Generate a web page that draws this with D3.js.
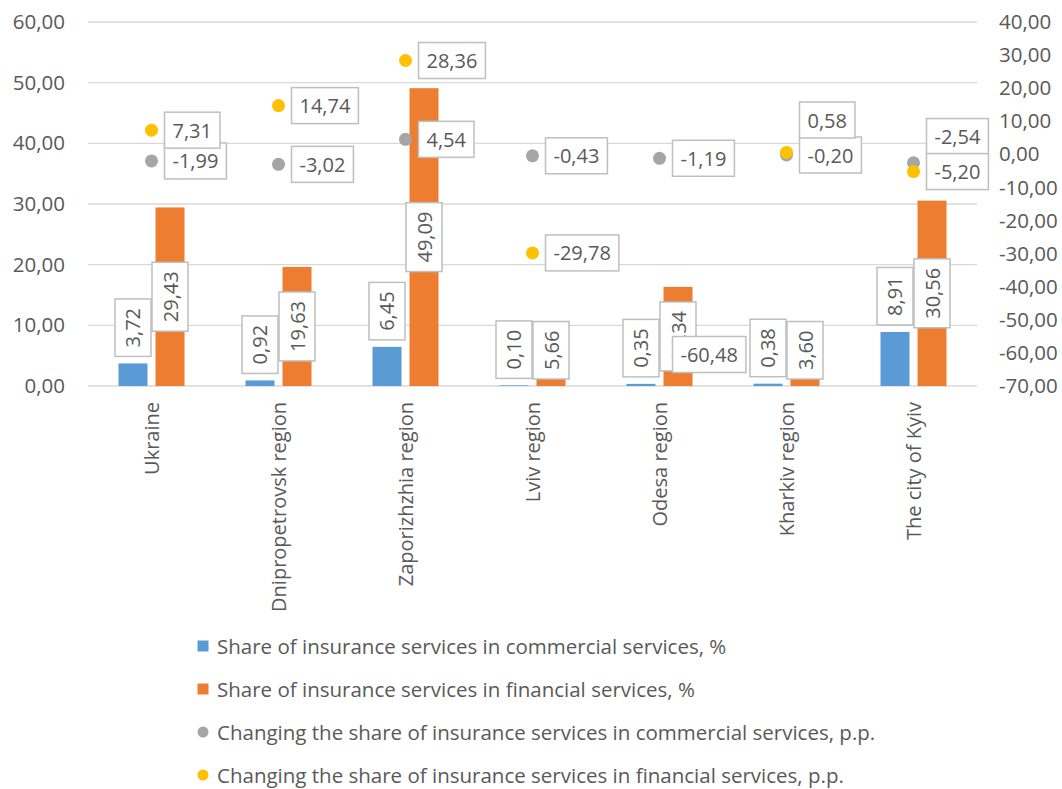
<!DOCTYPE html>
<html>
  <head>
    <meta charset="utf-8">
    <title>Insurance services share</title>
    <style>
      body { margin: 0; background: #fff; }
      svg text { font-family: "Open Sans", "Noto Sans", sans-serif; fill: #595959; }
    </style>
  </head>
  <body>
    <div id="chart"></div>
    <script src="https://cdn.jsdelivr.net/npm/d3@7"></script>
    <script>
    var categories = ["Ukraine", "Dnipropetrovsk region", "Zaporizhzhia region", "Lviv region",
                      "Odesa region", "Kharkiv region", "The city of Kyiv"];
    var commercialShare  = [3.72, 0.92, 6.45, 0.10, 0.35, 0.38, 8.91];
    var financialShare   = [29.43, 19.63, 49.09, 5.66, 16.34, 3.60, 30.56];
    var commercialChange = [-1.99, -3.02, 4.54, -0.43, -1.19, -0.20, -2.54];
    var financialChange  = [7.31, 14.74, 28.36, -29.78, -60.48, 0.58, -5.20];
    var leftTicks  = [0, 10, 20, 30, 40, 50, 60];
    var rightTicks = [-70, -60, -50, -40, -30, -20, -10, 0, 10, 20, 30, 40];
    var legendLabels = [
        "Share of insurance services in commercial services, %",
        "Share of insurance services in financial services, %",
        "Changing the share of insurance services in commercial services, p.p.",
        "Changing the share of insurance services in financial services, p.p."
    ];
    var colors = ["#5B9BD5", "#ED7D31", "#A5A5A5", "#FFC000"];

    var W = 1062, H = 789;
    var plot = {left: 88, right: 977, top: 22, bottom: 386};

    var locale = d3.formatLocale({decimal: ",", thousands: " ", grouping: [3], currency: ["", ""], minus: "-"});
    var fmt = locale.format(".2f");

    var svg = d3.select("#chart").append("svg")
        .attr("width", W).attr("height", H);

    var x = d3.scaleBand().domain(categories).range([plot.left, plot.right]);
    var xs = d3.scaleBand().domain(["c", "f"]).range([0, x.bandwidth()])
        .paddingInner(0.216).paddingOuter(0.824);
    var yL = d3.scaleLinear().domain([0, 60]).range([plot.bottom, plot.top]);
    var yR = d3.scaleLinear().domain([-70, 40]).range([plot.bottom, plot.top]);

    // gridlines
    svg.append("g").selectAll("line").data(leftTicks).join("line")
        .attr("x1", plot.left).attr("x2", plot.right)
        .attr("y1", d => yL(d)).attr("y2", d => yL(d))
        .attr("stroke", "#D9D9D9").attr("stroke-width", 1.3);

    // axes
    var axL = svg.append("g").attr("transform", "translate(" + plot.left + ",0)")
        .call(d3.axisLeft(yL).tickValues(leftTicks).tickSize(0).tickPadding(23).tickFormat(fmt));
    var axR = svg.append("g").attr("transform", "translate(" + plot.right + ",0)")
        .call(d3.axisRight(yR).tickValues(rightTicks).tickSize(0).tickPadding(22).tickFormat(fmt));
    [axL, axR].forEach(function(a) {
        a.select(".domain").remove();
        a.selectAll("text").style("font-size", "20.5px").attr("fill", "#595959");
    });

    svg.append("g").selectAll("text").data(categories).join("text")
        .attr("transform", d => "translate(" + (x(d) + x.bandwidth() / 2) + ",402) rotate(-90)")
        .attr("text-anchor", "end").attr("dominant-baseline", "central")
        .style("font-size", "20px")
        .text(d => d);

    // bars
    var barSeries = [
        {key: "c", values: commercialShare, color: colors[0], pos: "outside"},
        {key: "f", values: financialShare, color: colors[1], pos: "center"}
    ];
    barSeries.forEach(function(s) {
        svg.append("g").selectAll("rect").data(s.values).join("rect")
            .attr("x", (d, i) => x(categories[i]) + xs(s.key))
            .attr("width", xs.bandwidth())
            .attr("y", d => yL(d))
            .attr("height", d => yL(0) - yL(d))
            .attr("fill", s.color);
    });

    // scatter points
    var dotSeries = [
        {values: commercialChange, color: colors[2]},
        {values: financialChange, color: colors[3]}
    ];
    dotSeries.forEach(function(s) {
        svg.append("g").selectAll("circle").data(s.values).join("circle")
            .attr("cx", (d, i) => x(categories[i]) + x.bandwidth() / 2)
            .attr("cy", d => yR(d))
            .attr("r", 6.5)
            .attr("fill", s.color);
    });

    // bar labels (vertical, boxed)
    barSeries.forEach(function(s) {
        s.values.forEach(function(v, i) {
            var cx = x(categories[i]) + xs(s.key) + xs.bandwidth() / 2;
            var g = svg.append("g");
            var box = g.append("rect");
            var t = g.append("text").attr("text-anchor", "middle").attr("dominant-baseline", "central")
                .style("font-size", "20px").text(fmt(v));
            var len = t.node().getComputedTextLength();
            var h = len + 18;
            var cy;
            if (s.pos === "outside") cy = yL(v) - 7 - h / 2;
            else cy = Math.min((yL(v) + yL(0)) / 2, plot.bottom - 7 - h / 2);
            box.attr("x", -h / 2).attr("y", -18).attr("width", h).attr("height", 36)
                .attr("fill", "#fff").attr("stroke", "#BFBFBF").attr("stroke-width", 1.5);
            g.attr("transform", "translate(" + cx + "," + cy + ") rotate(-90)");
        });
    });

    // scatter labels (boxed, right of point; nudge the upper one when they collide)
    var labelY = dotSeries.map(s => s.values.map(v => yR(v)));
    categories.forEach(function(c, i) {
        var a = labelY[0][i], b = labelY[1][i];
        if (Math.abs(a - b) < 20) {
            if (a < b) labelY[0][i] = b - 35;
            else labelY[1][i] = a - 35;
        }
    });
    dotSeries.forEach(function(s, k) {
        s.values.forEach(function(v, i) {
            var cx = x(categories[i]) + x.bandwidth() / 2 + 13;
            var g = svg.append("g").attr("transform", "translate(" + cx + "," + labelY[k][i] + ")");
            var box = g.append("rect");
            var t = g.append("text").attr("x", 8).attr("dominant-baseline", "central")
                .style("font-size", "20px").text(fmt(v));
            var len = t.node().getComputedTextLength();
            box.attr("x", 0).attr("y", -18).attr("width", len + 16).attr("height", 36)
                .attr("fill", "#fff").attr("stroke", "#BFBFBF").attr("stroke-width", 1.5);
        });
    });

    // legend
    var leg = svg.append("g").selectAll("g").data(legendLabels).join("g")
        .attr("transform", (d, i) => "translate(203," + (646 + i * 43) + ")");
    leg.each(function(d, i) {
        var g = d3.select(this);
        if (i < 2) g.append("rect").attr("x", -5.5).attr("y", -5.5).attr("width", 11).attr("height", 11).attr("fill", colors[i]);
        else g.append("circle").attr("r", 5.5).attr("fill", colors[i]);
    });
    leg.append("text").attr("x", 14).attr("dominant-baseline", "central")
        .style("font-size", "20.5px").text(d => d);
    </script>
  </body>
</html>
